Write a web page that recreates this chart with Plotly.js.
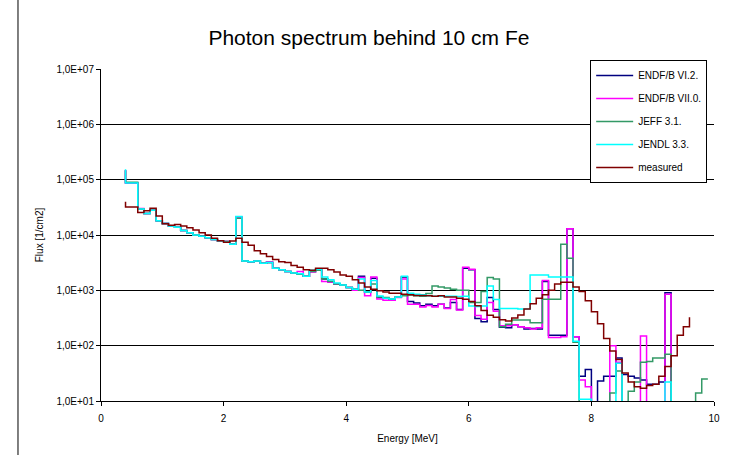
<!DOCTYPE html>
<html>
<head>
<meta charset="utf-8">
<script src="https://cdn.plot.ly/plotly-3.0.1.min.js"></script>
<style>
  html, body { margin: 0; padding: 0; background: #ffffff; }
  #chart { width: 732px; height: 455px; }
</style>
</head>
<body>
<div id="chart"></div>
<script>
// Energy points [MeV] (first entry repeats 0.4: start of the initial vertical segment)
const energy = [0.4, 0.4, 0.6, 0.7, 0.8, 0.9,
  1.0, 1.1, 1.2, 1.3, 1.4, 1.5, 1.6, 1.7, 1.8, 1.9,
  2.0, 2.1, 2.2, 2.3, 2.4, 2.5, 2.6, 2.7, 2.8, 2.9,
  3.0, 3.1, 3.2, 3.3, 3.4, 3.5, 3.6, 3.7, 3.8, 3.9,
  4.0, 4.1, 4.2, 4.3, 4.4, 4.5, 4.6, 4.7, 4.8, 4.9,
  5.0, 5.1, 5.2, 5.3, 5.4, 5.5, 5.6, 5.7, 5.8, 5.9,
  6.0, 6.1, 6.2, 6.3, 6.4, 6.5, 6.6, 6.7, 6.8, 6.9,
  7.0, 7.1, 7.2, 7.3, 7.4, 7.5, 7.6, 7.7, 7.8, 7.9,
  8.0, 8.1, 8.2, 8.3, 8.4, 8.5, 8.6, 8.7, 8.8, 8.9,
  9.0, 9.1, 9.2, 9.3, 9.4, 9.5, 9.6, 9.7, 9.8, 9.9, 10.0];

const endf6 = [1.5e5, 8.7e4, 2.95e4, 2.45e4, 2.8e4, 1.8e4,
  1.62e4, 1.46e4, 1.38e4, 1.2e4, 1.1e4, 1.0e4, 9.5e3, 8.9e3, 8.3e3, 7.9e3,
  7.6e3, 6.8e3, 2.1e4, 3.4e3, 3.3e3, 3.4e3, 3.1e3, 3.2e3, 2.5e3, 2.35e3,
  2.2e3, 2.05e3, 2.0e3, 1.8e3, 2.2e3, 2.35e3, 1.6e3, 1.45e3, 1.3e3, 1.25e3,
  1.12e3, 1.05e3, 1.8e3, 930, 1.65e3, 740, 720, 690, 760, 1.75e3,
  630, 590, 525, 560, 525, 560, 480, 600, 450, 2.5e3,
  2.35e3, 310, 270, 740, 450, 215, 210, 240, 220, 200,
  205, 200, 1.45e3, 155, 155, 155, 1.3e4, 145, 28, 37,
  3, 23, 28, 28, 60, 30, 28, 26, 24, 20,
  20, 22, 900, 3, 3, 3, 3, 3, 3, 3, 3];

const endf7 = [1.5e5, 8.7e4, 3.0e4, 2.45e4, 2.8e4, 1.8e4,
  1.62e4, 1.46e4, 1.38e4, 1.2e4, 1.1e4, 1.0e4, 9.5e3, 8.9e3, 8.3e3, 7.9e3,
  7.6e3, 6.8e3, 2.1e4, 3.4e3, 3.3e3, 3.4e3, 3.1e3, 3.3e3, 2.5e3, 2.35e3,
  2.2e3, 2.05e3, 2.2e3, 1.8e3, 2.15e3, 2.35e3, 1.45e3, 1.4e3, 1.3e3, 1.25e3,
  1.12e3, 1.0e3, 1.7e3, 800, 1.75e3, 700, 660, 660, 740, 1.6e3,
  560, 560, 500, 530, 500, 560, 470, 680, 440, 2.6e3,
  2.4e3, 350, 300, 600, 420, 230, 230, 240, 220, 210,
  200, 210, 1.5e3, 140, 140, 145, 1.3e4, 145, 24, 18,
  3, 3, 3, 100, 50, 3, 3, 3, 150, 3,
  3, 3, 850, 3, 3, 3, 3, 3, 3, 3, 3];

const jeff31 = [1.45e5, 9.0e4, 2.95e4, 2.45e4, 2.8e4, 1.8e4,
  1.62e4, 1.46e4, 1.38e4, 1.2e4, 1.1e4, 1.0e4, 9.5e3, 8.9e3, 8.3e3, 7.9e3,
  7.6e3, 6.8e3, 2.0e4, 3.4e3, 3.3e3, 3.4e3, 3.1e3, 3.2e3, 2.5e3, 2.35e3,
  2.2e3, 2.05e3, 1.95e3, 1.8e3, 2.2e3, 2.3e3, 1.6e3, 1.45e3, 1.3e3, 1.25e3,
  1.12e3, 1.05e3, 1.0e3, 930, 1.3e3, 760, 740, 690, 760, 800,
  820, 800, 780, 880, 1.2e3, 1.15e3, 1.1e3, 1.05e3, 1.0e3, 1.0e3,
  600, 600, 950, 1.7e3, 1.6e3, 220, 245, 290, 290, 290,
  260, 260, 690, 690, 690, 6.8e3, 3.8e3, 115, 3, 3,
  3, 3, 3, 14, 35, 3, 15, 22, 50, 52,
  60, 60, 70, 3, 3, 3, 3, 14, 25, 25, null];

const jendl33 = [1.55e5, 8.7e4, 2.95e4, 2.45e4, 2.8e4, 1.8e4,
  1.62e4, 1.46e4, 1.38e4, 1.2e4, 1.1e4, 1.0e4, 9.5e3, 8.9e3, 8.3e3, 7.9e3,
  7.4e3, 6.8e3, 2.15e4, 3.4e3, 3.3e3, 3.4e3, 3.1e3, 3.2e3, 2.5e3, 2.35e3,
  2.2e3, 2.05e3, 2.0e3, 1.8e3, 2.3e3, 2.4e3, 1.75e3, 1.55e3, 1.35e3, 1.25e3,
  1.12e3, 1.05e3, 1.6e3, 930, 1.5e3, 790, 720, 700, 760, 1.8e3,
  890, 850, 830, 800, 780, 780, 780, 780, 770, 780,
  520, 510, 520, 1.2e3, 680, 470, 470, 470, 460, 460,
  1.9e3, 1.9e3, 1.9e3, 1.75e3, 1.75e3, 1.75e3, 1.75e3, 120, 10.7, 10.7,
  3, 3, 3, 3, 48, 3, 3, 3, 3, 3,
  3, 3, 22, 3, 3, 3, 3, 3, 3, 3, 3];

const measured = [4.0e4, 3.2e4, 2.55e4, 2.75e4, 3.05e4, 2.2e4,
  1.6e4, 1.5e4, 1.55e4, 1.46e4, 1.35e4, 1.23e4, 1.1e4, 1.0e4, 8.7e3, 7.9e3,
  7.4e3, 7.8e3, 8.7e3, 7.4e3, 6.5e3, 5.2e3, 4.6e3, 4.1e3, 3.6e3, 3.3e3,
  3.2e3, 2.8e3, 2.6e3, 2.35e3, 2.3e3, 2.5e3, 2.5e3, 2.35e3, 2.15e3, 1.9e3,
  1.8e3, 1.55e3, 1.35e3, 1.15e3, 1.05e3, 980, 930, 890, 890, 850,
  830, 810, 810, 800, 780, 800, 760, 760, 720, 690,
  630, 525, 430, 355, 325, 295, 280, 315, 360, 460,
  575, 720, 830, 1.0e3, 1.3e3, 1.4e3, 1.4e3, 1.15e3, 950, 650,
  410, 250, 135, 80, 56, 32, 22, 18, 17, 19,
  20, 28, 42, 66, 155, 220, 325, null, null, null, null];

const seriesNames = ['ENDF/B VI.2.', 'ENDF/B VII.0.', 'JEFF 3.1.', 'JENDL 3.3.', 'measured'];
const seriesColors = ['#000080', '#ff00ff', '#339966', '#00ffff', '#800000'];
const seriesData = [endf6, endf7, jeff31, jendl33, measured];

const yTickVals = [1e1, 1e2, 1e3, 1e4, 1e5, 1e6, 1e7];
const yTickText = ['1,0E+01', '1,0E+02', '1,0E+03', '1,0E+04', '1,0E+05', '1,0E+06', '1,0E+07'];
const xTickVals = [0, 2, 4, 6, 8, 10];

const traces = seriesData.map((vals, i) => ({
  x: energy,
  y: vals,
  type: 'scatter',
  mode: 'lines',
  name: seriesNames[i],
  legendgroup: 'g' + i,
  line: { color: seriesColors[i], width: 1.5, shape: 'hv' },
  connectgaps: false,
  hoverinfo: 'skip'
}));

const FONT = 'Liberation Sans, Arial, sans-serif';

const layout = {
  width: 732,
  height: 455,
  margin: { l: 101, r: 18, t: 69, b: 54, pad: 0 },
  paper_bgcolor: '#ffffff',
  plot_bgcolor: '#ffffff',
  font: { family: FONT, size: 10, color: '#000000' },
  title: {
    text: 'Photon spectrum behind 10 cm Fe',
    font: { family: FONT, size: 21, color: '#000000' },
    x: 0.504, xanchor: 'center',
    y: 0.917, yanchor: 'middle'
  },
  xaxis: {
    range: [0, 10],
    tickvals: xTickVals,
    ticktext: xTickVals.map(String),
    ticks: 'outside', ticklen: 4, tickcolor: '#000000',
    ticklabelstandoff: 4,
    showline: true, linecolor: '#000000', linewidth: 1,
    showgrid: false, zeroline: false,
    tickfont: { family: FONT, size: 10 },
    title: { text: 'Energy [MeV]', font: { family: FONT, size: 10 }, standoff: 11 }
  },
  yaxis: {
    type: 'log',
    range: [1, 7],
    tickvals: yTickVals,
    ticktext: yTickText,
    ticks: 'outside', ticklen: 4, tickcolor: '#000000',
    showline: true, linecolor: '#000000', linewidth: 1,
    showgrid: true, gridcolor: '#000000', gridwidth: 1,
    zeroline: false,
    tickfont: { family: FONT, size: 10 },
    title: { text: 'Flux [1/cm2]', font: { family: FONT, size: 10 }, standoff: 10 }
  },
  legend: {
    x: 0.798, xanchor: 'left',
    y: 1.027, yanchor: 'top',
    bgcolor: '#ffffff',
    bordercolor: '#000000',
    borderwidth: 1,
    font: { family: FONT, size: 10, color: '#000000' },
    traceorder: 'grouped',
    tracegroupgap: 4,
    itemwidth: 37
  },
  showlegend: true,
  shapes: [
    { type: 'line', xref: 'paper', yref: 'paper',
      x0: -0.1354, x1: -0.1354, y0: -0.1627, y1: 1.2078,
      line: { color: '#000000', width: 1 }, layer: 'below' }
  ]
};

Plotly.newPlot('chart', traces, layout, { staticPlot: true, displayModeBar: false });
</script>
</body>
</html>
